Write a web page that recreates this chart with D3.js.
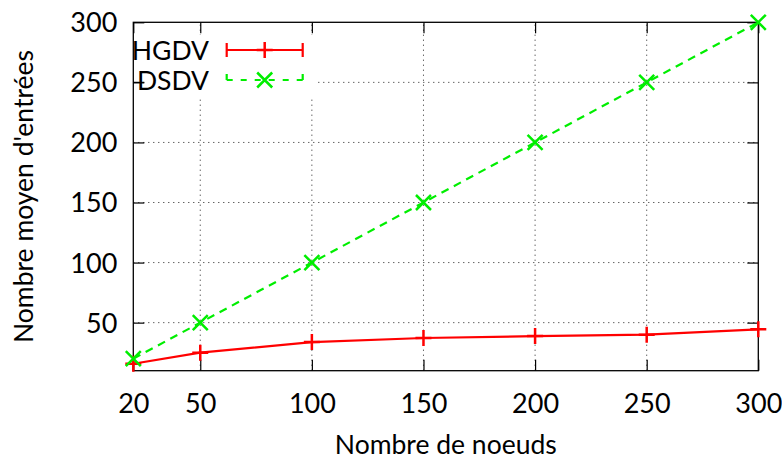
<!DOCTYPE html>
<html>
<head>
<meta charset="utf-8">
<script src="https://cdn.jsdelivr.net/npm/d3@7"></script>
<style>
  html, body { margin: 0; padding: 0; background: #fff; }
  svg { display: block; font-family: Lato, "Open Sans", sans-serif; }
</style>
</head>
<body>
<svg id="chart" width="782" height="463"></svg>
<script>
const nodes = [20, 50, 100, 150, 200, 250, 300];
const hgdv = [15.8, 25, 33.8, 37.2, 38.8, 40, 44.4];
const dsdv = [20, 50, 100, 150, 200, 250, 300];
const xTicks = [20, 50, 100, 150, 200, 250, 300];
const yTicks = [50, 100, 150, 200, 250, 300];
const seriesNames = ["HGDV", "DSDV"];
const xTitle = "Nombre de noeuds";
const yTitle = "Nombre moyen d'entrées";

const svg = d3.select("#chart");
const L = 133.3, R = 758.3, T = 22.3, B = 370.7;
const x = d3.scaleLinear().domain([20, 300]).range([L, R]);
const y = d3.scaleLinear().domain([10, 300]).range([B, T]);
const FS = 26.5, TFS = 27;
const red = "#ff0000", green = "#00ee00";

// grid
const grid = svg.append("g").attr("stroke", "#222").attr("stroke-width", 1).attr("stroke-dasharray", "1,4");
grid.selectAll("line.v").data(xTicks.slice(1, -1)).join("line")
  .attr("x1", d => x(d)).attr("x2", d => x(d)).attr("y1", B).attr("y2", T);
grid.selectAll("line.h").data(yTicks.slice(0, -1)).join("line")
  .attr("x1", L).attr("x2", R).attr("y1", d => y(d)).attr("y2", d => y(d));

// opaque legend background
svg.append("rect").attr("x", L + 1).attr("y", 35).attr("width", 317 - L - 1).attr("height", 62).attr("fill", "#fff");

// axes via d3 axis
const xAxisB = d3.axisBottom(x).tickValues(xTicks).tickSizeInner(-11).tickSizeOuter(0).tickPadding(20);
const gx = svg.append("g").attr("transform", `translate(0,${B})`).call(xAxisB);
const xAxisT = d3.axisTop(x).tickValues(xTicks).tickSizeInner(-11).tickSizeOuter(0).tickFormat("");
const gxt = svg.append("g").attr("transform", `translate(0,${T})`).call(xAxisT);
const yAxisL = d3.axisLeft(y).tickValues(yTicks).tickSizeInner(-11).tickSizeOuter(0).tickPadding(16);
const gy = svg.append("g").attr("transform", `translate(${L},0)`).call(yAxisL);
const yAxisR = d3.axisRight(y).tickValues(yTicks).tickSizeInner(-11).tickSizeOuter(0).tickFormat("");
const gyr = svg.append("g").attr("transform", `translate(${R},0)`).call(yAxisR);
[gx, gxt, gy, gyr].forEach(g => {
  g.select(".domain").remove();
  g.selectAll(".tick line").attr("stroke", "#000").attr("stroke-width", 1.2);
  g.selectAll("text").attr("font-family", "Lato").attr("font-size", TFS).attr("fill", "#000");
});
gx.selectAll("text").attr("dy", null).attr("y", 42.7).attr("dominant-baseline", "auto");
gy.selectAll("text").attr("dy", "0.35em");

// border
svg.append("rect").attr("x", L).attr("y", T).attr("width", R - L).attr("height", B - T)
  .attr("fill", "none").attr("stroke", "#000").attr("stroke-width", 1.3);

// titles
svg.append("text").attr("x", (L + R) / 2).attr("y", 454).attr("text-anchor", "middle")
  .attr("font-size", FS).attr("fill", "#000").text(xTitle);
svg.append("text").attr("transform", `translate(33,${(T + B) / 2}) rotate(-90)`).attr("text-anchor", "middle")
  .attr("font-size", FS).attr("fill", "#000").text(yTitle);

// series
const line = d3.line().x(d => x(d[0])).y(d => y(d[1]));
const hData = nodes.map((n, i) => [n, hgdv[i]]);
const dData = nodes.map((n, i) => [n, dsdv[i]]);

function plus(g, cx, cy, col) {
  g.append("path").attr("d", `M${cx - 8},${cy}H${cx + 8}M${cx},${cy - 8}V${cy + 8}`)
    .attr("stroke", col).attr("stroke-width", 2.5).attr("fill", "none");
}
function cross(g, cx, cy, col) {
  g.append("path").attr("d", `M${cx - 7.5},${cy - 7.5}L${cx + 7.5},${cy + 7.5}M${cx - 7.5},${cy + 7.5}L${cx + 7.5},${cy - 7.5}`)
    .attr("stroke", col).attr("stroke-width", 2.5).attr("fill", "none");
}

const gs = svg.append("g");
gs.append("path").datum(hData).attr("d", line).attr("fill", "none").attr("stroke", red).attr("stroke-width", 2.2);
hData.forEach(d => plus(gs, x(d[0]), y(d[1]), red));
gs.append("path").datum(dData).attr("d", line).attr("fill", "none").attr("stroke", green).attr("stroke-width", 2.2)
  .attr("stroke-dasharray", "8,6");
dData.forEach(d => cross(gs, x(d[0]), y(d[1]), green));

// legend
const lg = svg.append("g");
const rows = [{ name: seriesNames[0], col: red, y: 50, mk: plus, dash: null, ends: true },
              { name: seriesNames[1], col: green, y: 80, mk: cross, dash: "6,8", ends: false }];
rows.forEach(r => {
  lg.append("text").attr("x", 209).attr("y", r.y).attr("dy", "0.36em").attr("text-anchor", "end")
    .attr("font-size", FS).attr("fill", "#000").text(r.name);
  lg.append("line").attr("x1", 226.7).attr("x2", 302.7).attr("y1", r.y).attr("y2", r.y)
    .attr("stroke", r.col).attr("stroke-width", 2.2).attr("stroke-dasharray", r.dash);
  if (r.ends) {
    lg.append("path").attr("d", `M226.7,${r.y - 7}V${r.y + 7}M302.7,${r.y - 7}V${r.y + 7}`)
      .attr("stroke", r.col).attr("stroke-width", 2.2);
  } else {
    lg.append("path").attr("d", `M226.7,${r.y - 6}V${r.y}M302.7,${r.y - 6}V${r.y}`)
      .attr("stroke", r.col).attr("stroke-width", 2.2);
  }
  r.mk(lg, 264.7, r.y, r.col);
});
// y tick at 250 redrawn over legend text so it crosses the D as in the reference
svg.append("line").attr("x1", L).attr("x2", L + 11).attr("y1", y(250)).attr("y2", y(250))
  .attr("stroke", "#000").attr("stroke-width", 1.2);
</script>
</body>
</html>
